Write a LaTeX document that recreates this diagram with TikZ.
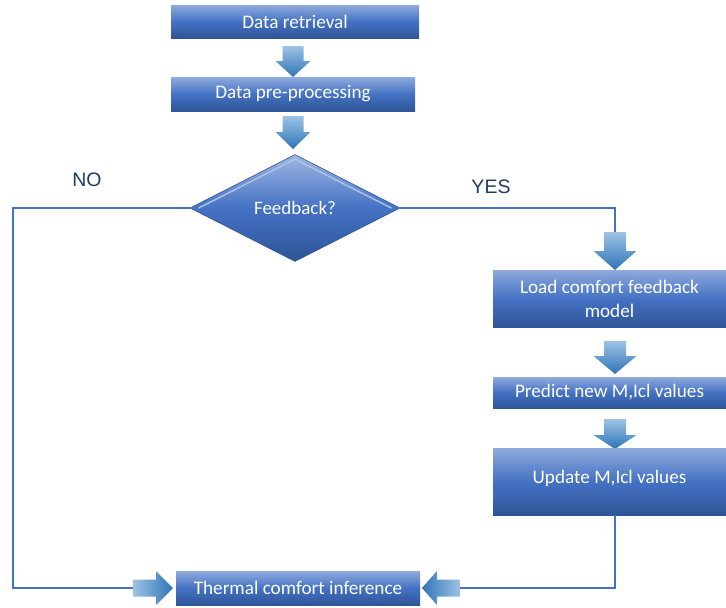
\documentclass[tikz,border=0pt]{standalone}
\usepackage{fontspec}
\setmainfont{Carlito}
\newfontfamily\labfont{Liberation Sans}
\usetikzlibrary{shapes.geometric}
\definecolor{boxtop}{HTML}{8FAADC}
\definecolor{boxmid}{HTML}{4472C4}
\definecolor{boxbot}{HTML}{2F5597}
\definecolor{arrlight}{HTML}{9DC3E6}
\definecolor{arrdark}{HTML}{2E75B6}
\definecolor{linec}{HTML}{4472C4}
\definecolor{navy}{HTML}{1F3864}
\tikzset{
  procbox/.style={rectangle, inner sep=0pt, top color=boxtop, bottom color=boxbot, middle color=boxmid,
    text=white, font=\fontsize{19.2}{24}\selectfont, align=center},
  dshade/.style={top color=arrlight, bottom color=arrdark},
  rshade/.style={left color=arrlight, right color=arrdark},
  lshade/.style={right color=arrlight, left color=arrdark},
  conn/.style={draw=linec, line width=1.6pt},
  lab/.style={font=\labfont\fontsize{19.5}{22}\selectfont, text=navy},
  bevel/.style={draw=boxtop!70!white, line width=1.4pt, line cap=round}
}
% down block arrow: #1 name, #2 x, #3 top, #4 head base, #5 tip, #6 head half width, #7 shaft half width
\newcommand{\mydarrow}[7]{%
  \shade[dshade] (#2-#7,#3) -- (#2+#7,#3) -- (#2+#7,#4) -- (#2+#6,#4) -- (#2,#5)
     -- (#2-#6,#4) -- (#2-#7,#4) -- cycle;
  \coordinate (#1 tail) at (#2,#3);
  \coordinate (#1 tip) at (#2,#5);}
% horizontal block arrow: #1 name, #2 y, #3 tail x, #4 head base x, #5 tip x, #6 head half, #7 shaft half, #8 shading
\newcommand{\myharrow}[8]{%
  \shade[#8] (#3,#2-#7) -- (#4,#2-#7) -- (#4,#2-#6) -- (#5,#2) -- (#4,#2+#6)
     -- (#4,#2+#7) -- (#3,#2+#7) -- cycle;
  \coordinate (#1 tail) at (#3,#2);
  \coordinate (#1 tip) at (#5,#2);}
\begin{document}
\begin{tikzpicture}[x=1pt,y=-1pt]
\useasboundingbox (0,0) rectangle (726,608);
% left column
\node[procbox, minimum width=248pt, minimum height=33pt] (dr) at (295,21.5) {Data retrieval};
\mydarrow{a1}{293}{46}{61}{77}{17.5}{10.5}
\node[procbox, minimum width=244pt, minimum height=34pt] (dp) at (293,94) {Data pre-processing};
\mydarrow{a2}{293}{116}{132}{149}{17.5}{10.5}
\node[diamond, shape aspect=2, inner sep=0pt, minimum width=210pt, minimum height=107pt,
  top color=boxtop!85!white, bottom color=boxbot, middle color=boxmid, draw=boxbot, line width=0.6pt,
  text=white, font=\fontsize{19}{22}\selectfont] (fb) at (295,208) {Feedback?};
\draw[bevel] ([xshift=9pt]fb.west) -- ([yshift=-5pt]fb.north) -- ([xshift=-9pt]fb.east);
\node[lab] (no) at (87,180) {NO};
\node[lab] (yes) at (491,187) {YES};
% right column
\mydarrow{a3}{615}{232}{251}{270}{21.5}{11}
\node[procbox, minimum width=233pt, minimum height=57pt] (lc) at (609.5,298.5) {Load comfort feedback\\model};
\mydarrow{a4}{615}{341}{356}{374}{21.5}{11}
\node[procbox, minimum width=233pt, minimum height=31pt] (pn) at (609.5,392.5) {Predict new M,Icl values};
\mydarrow{a5}{615}{419}{435}{449}{21.5}{11}
\node[procbox, minimum width=233pt, minimum height=67pt, text depth=10pt] (up) at (609.5,481.5) {Update M,Icl values};
% bottom
\node[procbox, minimum width=244pt, minimum height=34pt] (tc) at (298,588) {Thermal comfort inference};
\myharrow{la}{588}{133}{156}{173}{17}{8.5}{rshade}
\myharrow{ra}{588}{460}{437}{422}{17}{8.5}{lshade}
\coordinate (c1) at (13,208);
\coordinate (c2) at (615,515);
% connectors
\draw[conn] (fb.west) -- (c1) |- (la tail);
\draw[conn] (fb.east) -| (a3 tail);
\draw[conn] (c2) |- (ra tail);
\end{tikzpicture}
\end{document}
